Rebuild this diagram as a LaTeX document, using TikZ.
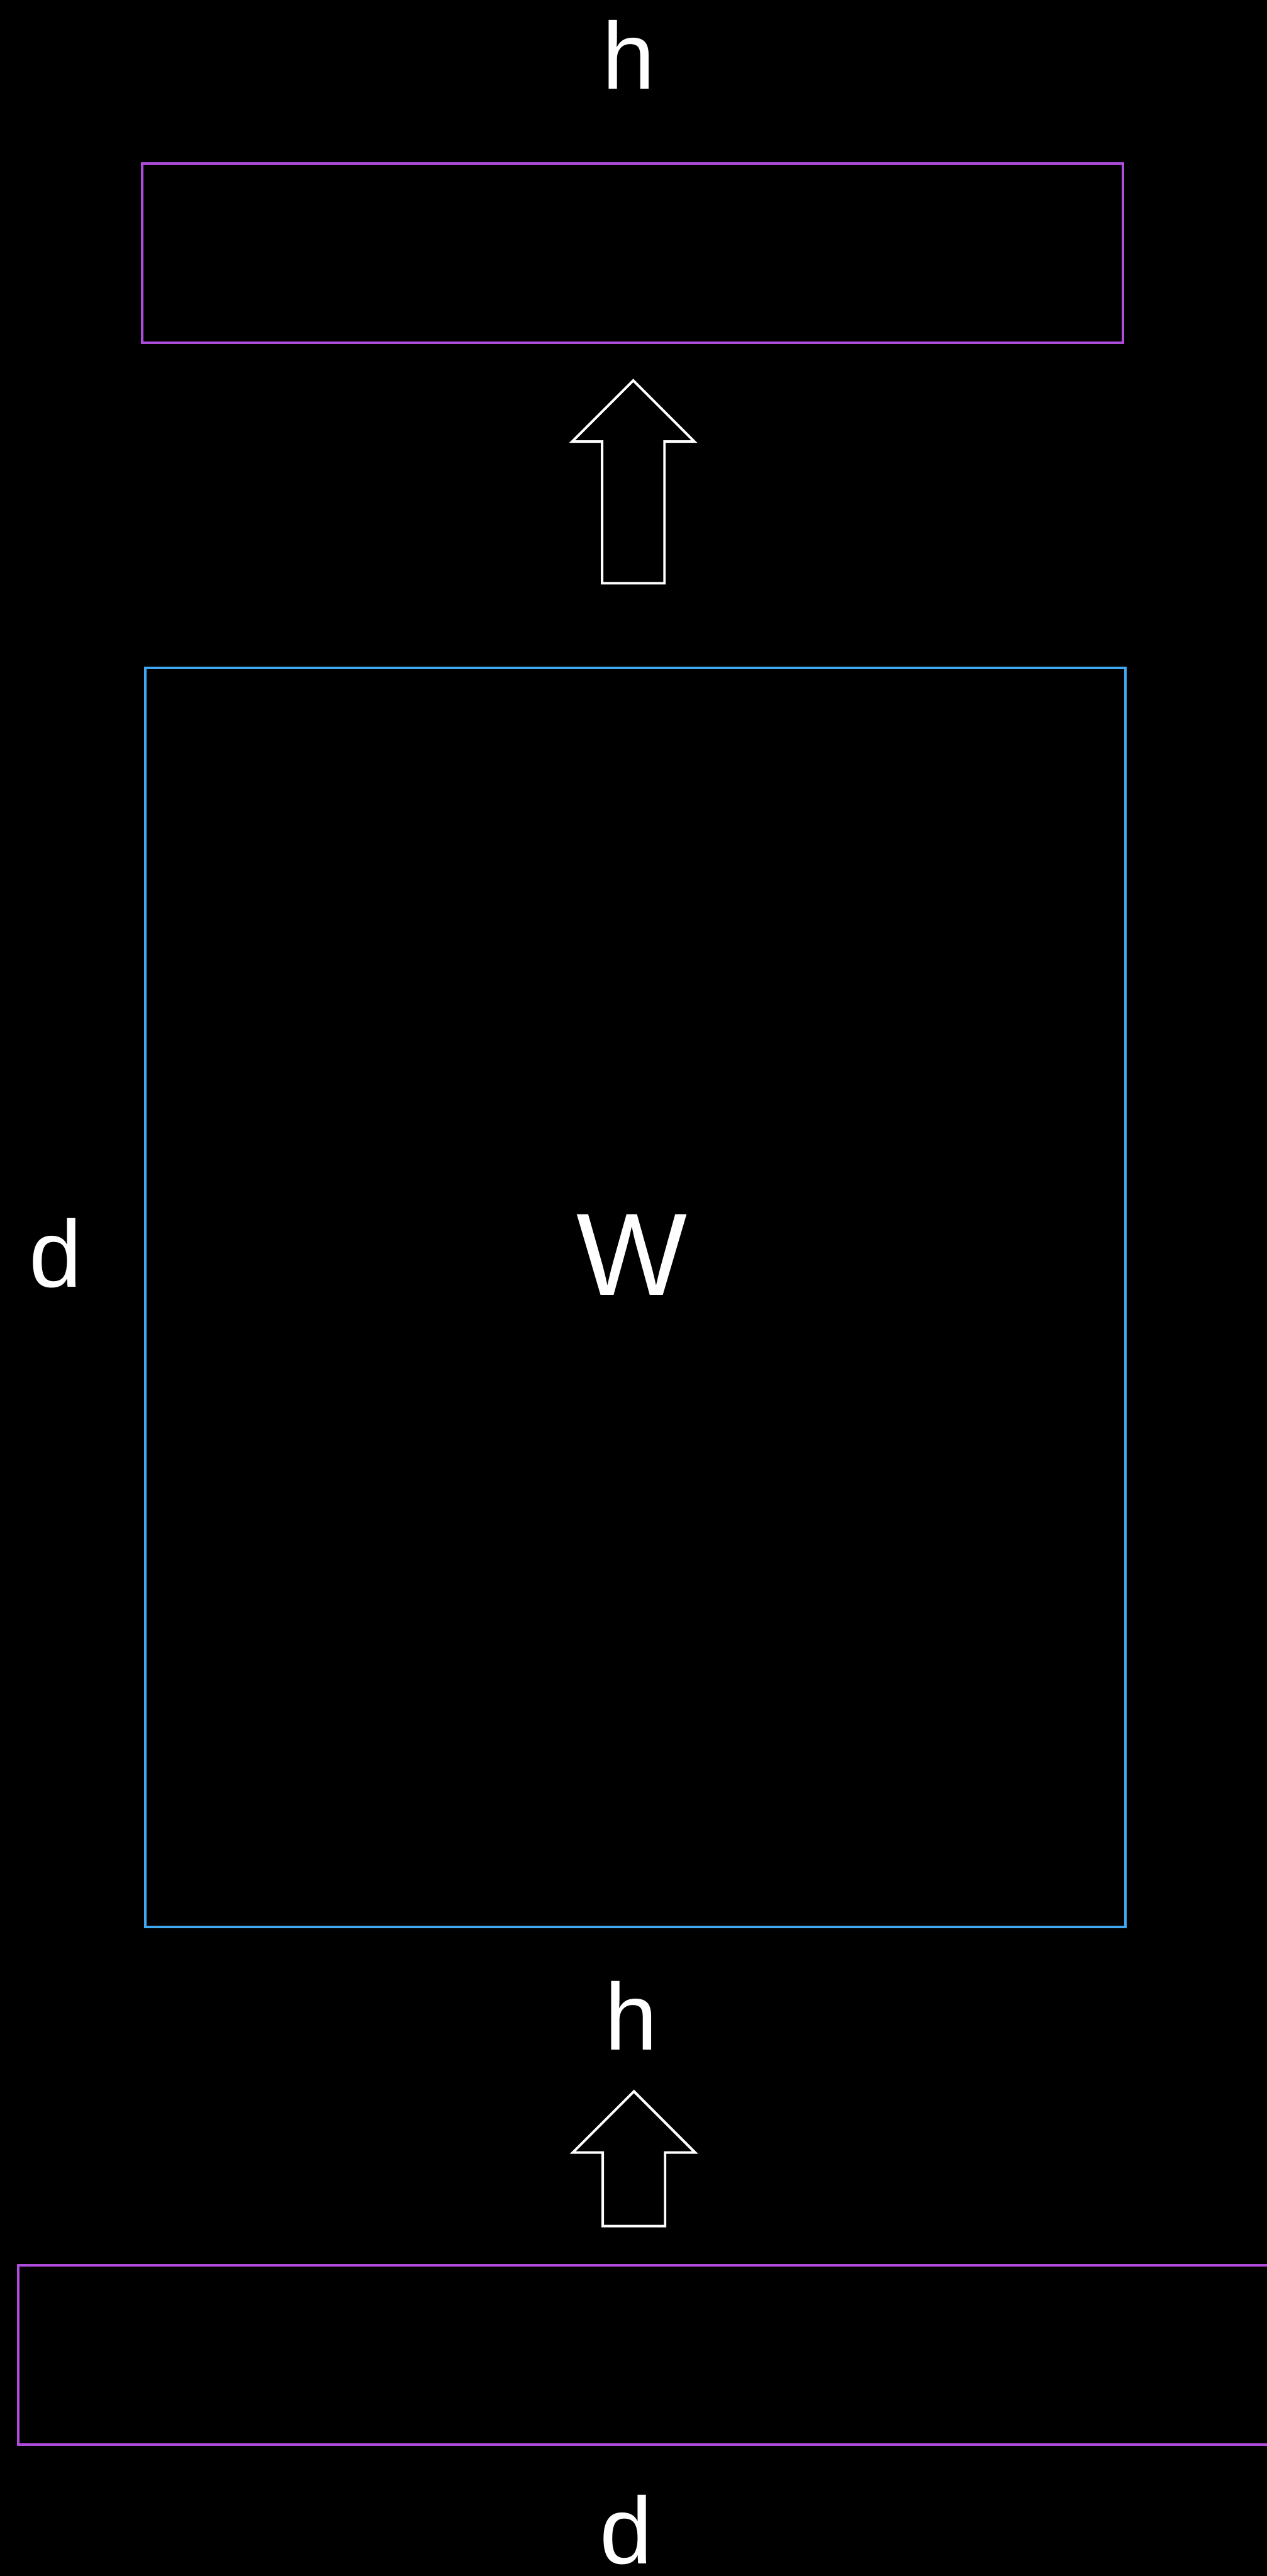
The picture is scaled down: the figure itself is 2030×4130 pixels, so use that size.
\documentclass[tikz,border=0pt]{standalone}
\usepackage{fontspec}
\setmainfont{Liberation Sans}
\definecolor{rectpurple}{HTML}{B04CDC}
\definecolor{rectblue}{HTML}{40A8F0}
\tikzset{
  lbl/.style={text=white, inner sep=0pt, anchor=base, font=\fontsize{38pt}{40pt}\selectfont},
  biglbl/.style={text=white, inner sep=0pt, anchor=base, font=\fontsize{47pt}{50pt}\selectfont},
  vecbox/.style={draw=rectpurple, line width=1pt, inner sep=0pt, minimum height=71.75pt},
  matbox/.style={draw=rectblue, line width=1pt, inner sep=0pt},
  blockarrow/.style={draw=white, line width=1pt, line join=miter}
}
\begin{document}
\begin{tikzpicture}[x=0.25pt,y=-0.25pt]
\useasboundingbox (0,0) rectangle (2030,4130);
\fill[black] (-40,-40) rectangle (2070,4170);
\begin{scope}
\clip (-40,-40) rectangle (2070,4170);
% top output vector
\node[lbl] (hTop) at (1008,143) {h};
\node[vecbox, minimum width=393pt] (rectTop) at (1014,406) {};
% arrow W -> output
\coordinate (tipA) at (1015,610);
\draw[blockarrow] (tipA) -- ++(98,98) -- ++(-48,0) -- ++(0,227) -- ++(-100,0) -- ++(0,-227) -- ++(-48,0) -- cycle;
% matrix W
\node[matbox, minimum width=392.75pt, minimum height=504.5pt] (matW) at (1018.5,2080) {};
\node[biglbl] (labW) at (1013,2077) {W};
\node[lbl] (dLeft) at (89,2063) {d};
\node[lbl] (hBot) at (1012,3287) {h};
% arrow input -> W
\coordinate (tipB) at (1016,3353);
\draw[blockarrow] (tipB) -- ++(98,98) -- ++(-48,0) -- ++(0,118) -- ++(-100,0) -- ++(0,-118) -- ++(-48,0) -- cycle;
% bottom input vector
\node[vecbox, minimum width=525pt] (rectBot) at (1079,3775.5) {};
\node[lbl] (dBot) at (1004,4110) {d};
\end{scope}
\end{tikzpicture}
\end{document}
